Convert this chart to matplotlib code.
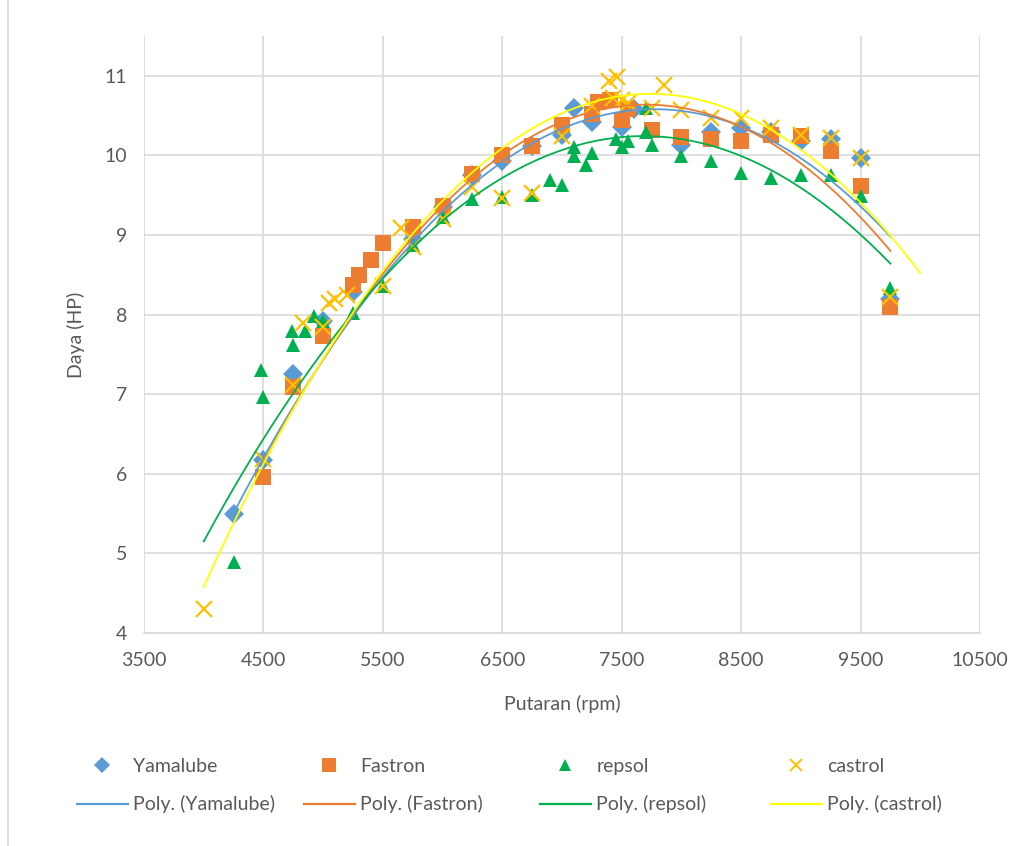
import matplotlib.pyplot as plt
from matplotlib.lines import Line2D
import numpy as np

plt.rcParams['font.family'] = ['Lato', 'DejaVu Sans']

# data (rpm, HP)
yam_rpm = [4250, 4500, 4750, 5000, 5250, 5750, 6000, 6250, 6500, 6750, 7000, 7100, 7250,
           7500, 7600, 8000, 8250, 8500, 8750, 9000, 9250, 9500, 9750]
yam_hp = [5.5, 6.17, 7.25, 7.92, 8.28, 8.95, 9.35, 9.75, 9.93, 10.12, 10.26, 10.6, 10.42,
          10.36, 10.58, 10.13, 10.3, 10.35, 10.3, 10.18, 10.2, 9.97, 8.2]

fas_rpm = [4500, 4750, 5000, 5250, 5300, 5400, 5500, 5750, 6000, 6250, 6500, 6750, 7000, 7250,
           7300, 7400, 7500, 7550, 7750, 8000, 8250, 8500, 8750, 9000, 9250, 9500, 9750]
fas_hp = [5.96, 7.09, 7.73, 8.37, 8.5, 8.68, 8.9, 9.1, 9.37, 9.77, 10.0, 10.12, 10.38, 10.52,
          10.67, 10.7, 10.45, 10.58, 10.32, 10.23, 10.2, 10.18, 10.26, 10.25, 10.06, 9.62, 8.1]

rep_rpm = [4250, 4480, 4500, 4740, 4750, 4850, 4920, 5000, 5250, 5500, 5750, 6000, 6250, 6500,
           6750, 6900, 7000, 7100, 7100, 7200, 7250, 7450, 7500, 7550, 7700, 7700, 7750, 8000,
           8250, 8500, 8750, 9000, 9250, 9500, 9750]
rep_hp = [4.89, 7.3, 6.97, 7.8, 7.62, 7.8, 7.98, 7.92, 8.02, 8.36, 8.87, 9.22, 9.45, 9.48,
          9.5, 9.69, 9.63, 10.1, 9.99, 9.88, 10.03, 10.2, 10.1, 10.18, 10.6, 10.3, 10.13, 9.99,
          9.93, 9.78, 9.72, 9.76, 9.76, 9.49, 8.34]

cas_rpm = [4000, 4500, 4750, 4830, 5000, 5050, 5100, 5200, 5500, 5650, 5750, 6000, 6250, 6500,
           6750, 7000, 7250, 7390, 7460, 7430, 7500, 7550, 7750, 7850, 8000, 8250, 8500, 8750,
           9000, 9250, 9500, 9750]
cas_hp = [4.3, 6.18, 7.12, 7.9, 7.84, 8.15, 8.2, 8.24, 8.36, 9.09, 8.85, 9.2, 9.6, 9.47,
          9.53, 10.24, 10.62, 10.93, 10.99, 10.72, 10.7, 10.66, 10.6, 10.89, 10.57, 10.47, 10.47,
          10.35, 10.26, 10.22, 9.97, 8.22]

names = ['Yamalube', 'Fastron', 'repsol', 'castrol']

# polynomial (order 2) trendlines: three readings of each drawn curve, and its extent
yam_trend = ([4500, 7500, 9750], [6.2, 10.55, 8.98])
fas_trend = ([4520, 7450, 9750], [6.2, 10.61, 8.8])
rep_trend = ([4000, 7600, 9750], [5.15, 10.24, 8.64])
cas_trend = ([4000, 7660, 10000], [4.58, 10.77, 8.52])
trend_range = [(4250, 9750), (4500, 9750), (4000, 9750), (4000, 10000)]

fig = plt.figure(figsize=(10.32, 8.46), dpi=100)
ax = fig.add_axes([144 / 1032, 1 - 633 / 846, 836 / 1032, 597 / 846])

txt = '#595959'
grid = '#d9d9d9'

series = [
    (yam_rpm, yam_hp, yam_trend, 'D', 10, '#5b9bd5', '#5b9bd5'),
    (fas_rpm, fas_hp, fas_trend, 's', 11.5, '#ed7d31', '#ed7d31'),
    (rep_rpm, rep_hp, rep_trend, '^', 10.5, '#00b050', '#00b050'),
    (cas_rpm, cas_hp, cas_trend, 'x', 11, '#ffc000', '#ffff00'),
]

handles = []
for (x, y, tr, mk, ms, c, lc), name, (a, b) in zip(series, names, trend_range):
    if mk == 'x':
        ax.plot(x, y, ls='none', marker=mk, ms=ms, mew=1.6, color=c, zorder=3)
    else:
        ax.plot(x, y, ls='none', marker=mk, ms=ms, mew=0, color=c, zorder=3)
    coef = np.polyfit(tr[0], tr[1], 2)
    xx = np.linspace(a, b, 200)
    ax.plot(xx, np.polyval(coef, xx), color=lc, lw=1.3, zorder=4)
    hm = Line2D([], [], ls='none', marker=mk, ms=ms * 0.85, color=c,
                mew=1.4 if mk == 'x' else 0)
    hl = Line2D([], [], color=lc, lw=1.6)
    handles.append((hm, name, hl, 'Poly. (%s)' % name))

ax.set_xlim(3500, 10500)
ax.set_ylim(4, 11.5)
ax.set_xticks(np.arange(3500, 10501, 1000))
ax.set_yticks(np.arange(4, 12, 1))
ax.grid(True, color=grid, lw=1.2)
ax.set_axisbelow(True)
for s in ['top', 'right', 'left']:
    ax.spines[s].set_visible(False)
ax.spines['bottom'].set_color(grid)
ax.spines['bottom'].set_linewidth(1.2)
ax.tick_params(length=0, labelsize=14, colors=txt, pad=14)
ax.tick_params(axis='y', pad=12)
ax.set_xlabel('Putaran (rpm)', fontsize=14, color=txt, labelpad=18)
ax.set_ylabel('Daya (HP)', fontsize=14, color=txt, labelpad=14)

# legend: four columns, marker row above trendline row
col_x = [77, 304, 540, 771]
for (hm, n1, hl, n2), cx in zip(handles, col_x):
    fig.legend([hm, hl], [n1, n2], loc='upper left',
               bbox_to_anchor=(cx / 1032, 1 - 758 / 846), frameon=False,
               fontsize=14, labelcolor=txt, handlelength=2.6, handletextpad=0.3,
               borderpad=0, borderaxespad=0, labelspacing=1.05)

# chart frame edge on the left
fig.add_artist(Line2D([8 / 1032, 8 / 1032], [0, 1], color=grid, lw=1.2))

fig.savefig('out.png', dpi=100)
